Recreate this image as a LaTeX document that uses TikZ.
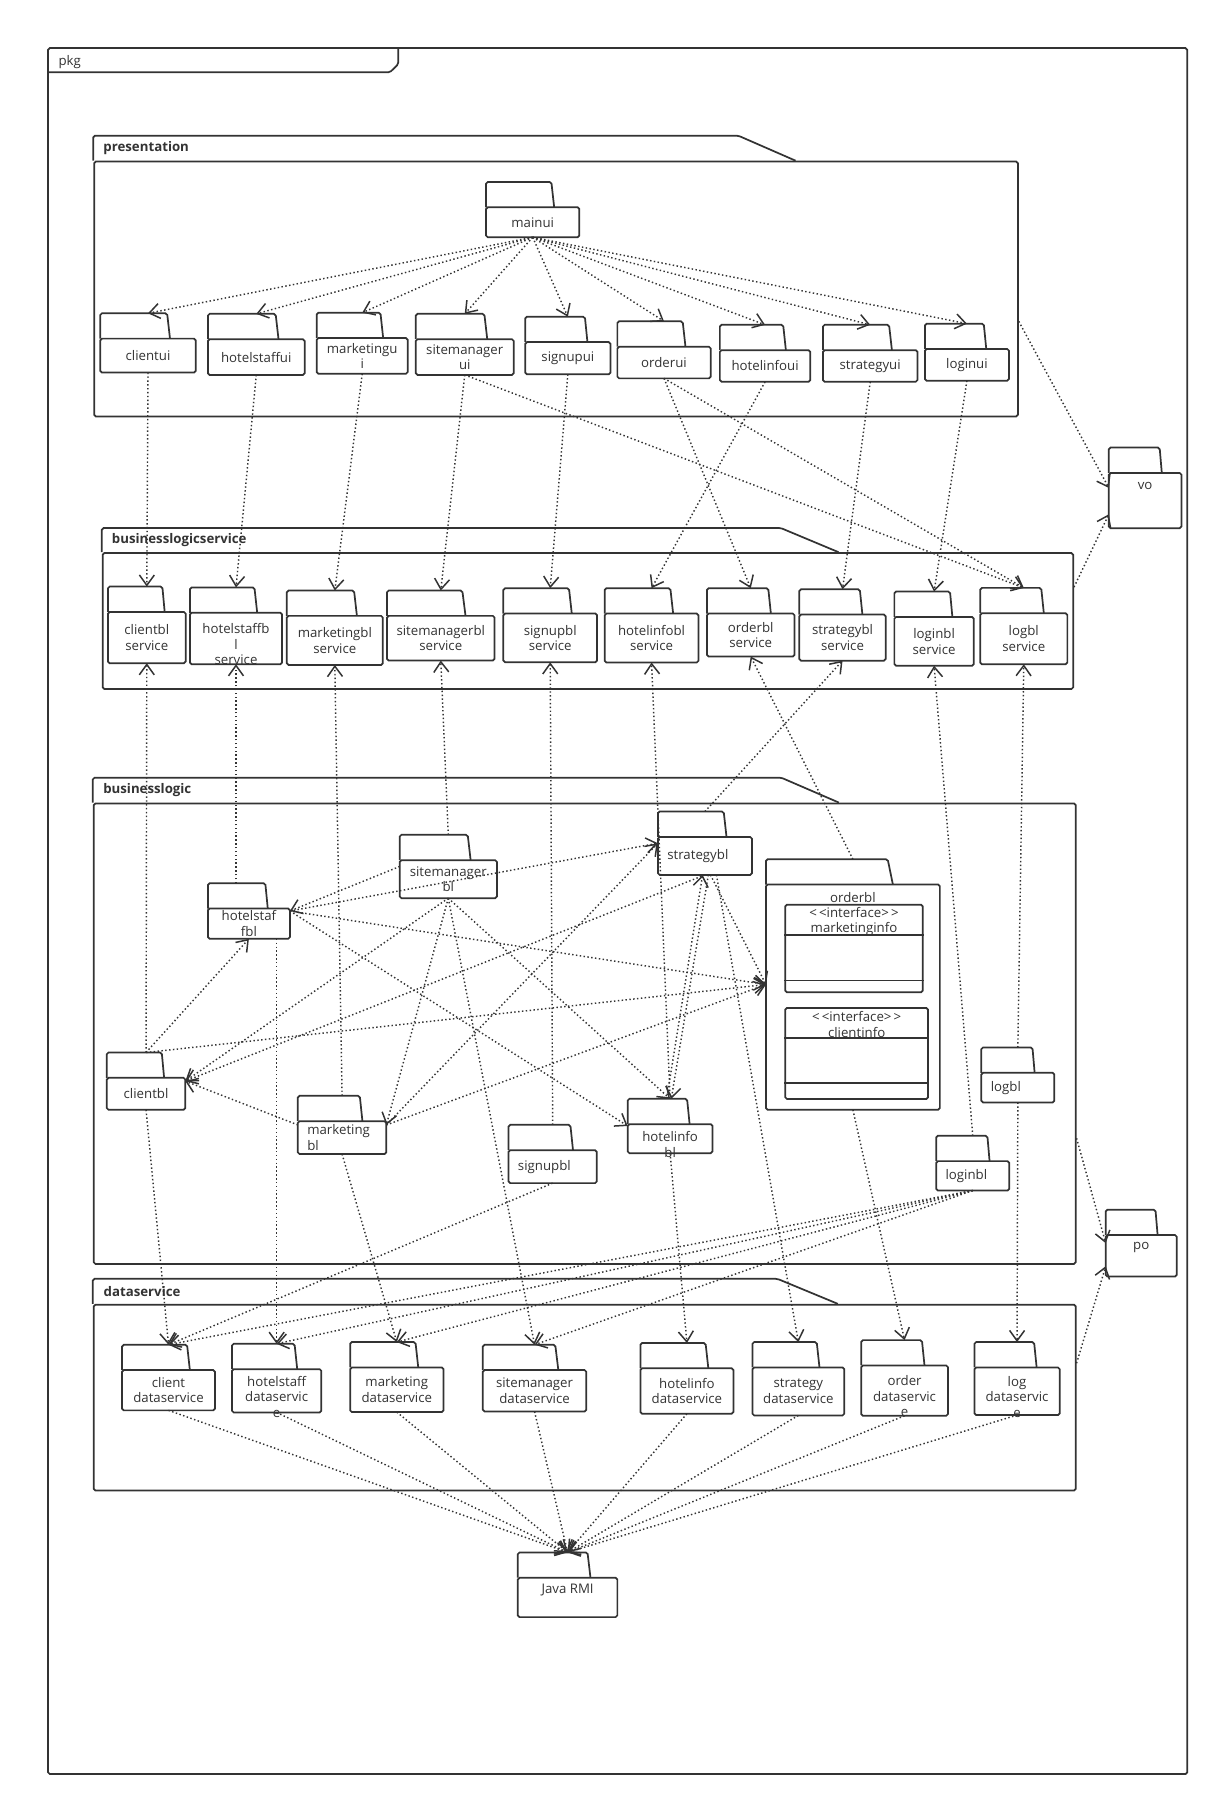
\documentclass[tikz,border=0pt]{standalone}
\usepackage{fontspec}
\setmainfont{Open Sans}
\usetikzlibrary{arrows.meta, positioning, calc}
\definecolor{ink}{HTML}{333333}

\begin{document}
\begin{tikzpicture}[
    x=1pt, y=-1pt,
    txt/.style={font=\fontsize{11.5}{13.5}\selectfont, text=ink, align=center, inner sep=0pt},
    pkgtext/.style={txt, yshift=-11pt},
    title/.style={txt, font=\fontsize{11.5}{13.5}\selectfont\bfseries, anchor=west},
    pkgline/.style={draw=ink, line width=1.5pt, rounded corners=1.5pt},
    pkgshape/.style={rectangle, anchor=north west, inner sep=0pt, outer sep=0pt,
        append after command={\pgfextra{
            \draw[pkgline] ($(\tikzlastnode.north west)+(0,22)$) rectangle (\tikzlastnode.south east);
            \draw[pkgline] ($(\tikzlastnode.north west)+(0,22)$) -- (\tikzlastnode.north west)
                -- ($(\tikzlastnode.north west)!0.70!(\tikzlastnode.north east)$)
                -- ($(\tikzlastnode.north west)!0.73!(\tikzlastnode.north east)+(0,22)$);
        }}},
    pkg/.style={pkgshape, label={[pkgtext]center:{#1}}},
    pkgd/.style={pkgshape, label={[pkgtext, yshift=-5pt]center:{#1}}},
    pkgl/.style={pkgshape, label={[pkgtext, align=left, anchor=west, xshift=8pt]west:{#1}}},
    pkgt/.style={pkgshape, label={[pkgtext, anchor=center, yshift=-22pt]north:{#1}}},
    container/.style={rectangle, pkgline, anchor=north west, inner sep=0pt},
    iface/.style={rectangle, pkgline, anchor=north west, inner sep=0pt},
    dep/.style={draw=ink, line width=1.25pt, dash pattern=on 1.25pt off 2.1pt,
        -{Straight Barb[length=9pt, width=13pt, line width=1.3pt]}}
]
\useasboundingbox (0,0) rectangle (1058,1568);

% outer frame
\node[container, minimum width=989, minimum height=1498.5] (pkgframe) at (41,41) {};
\draw[pkgline] ($(pkgframe.north west)+(0,21.8)$) -- ++(297.5,0) -- ++(7.3,-7.1) -- ++(0,-14.7);
\node[txt, anchor=west] (pkglbl) at (50.6,53.5) {pkg};

% containers
\node[container, minimum width=802, minimum height=221.3] (presentation) at (81,139.5) {};
\draw[pkgline] (presentation.north west) -- ++(0,-21.7) -- ++(560,0) -- ++(49.7,21.7);
\node[title] (presentationtitle) at (89.6,128.6) {presentation};

\node[container, minimum width=842.6, minimum height=118.1] (blservice) at (88.4,479.4) {};
\draw[pkgline] (blservice.north west) -- ++(0,-21) -- ++(589.4,0) -- ++(50.2,21);
\node[title] (blservicetitle) at (97,468.7) {businesslogicservice};

\node[container, minimum width=852.6, minimum height=399.8] (businesslogic) at (80.6,696.8) {};
\draw[pkgline] (businesslogic.north west) -- ++(0,-21.6) -- ++(597.7,0) -- ++(50,21.6);
\node[title] (businesslogictitle) at (89.5,685.8) {businesslogic};

\node[container, minimum width=852.6, minimum height=161.4] (dataservice) at (80.6,1132) {};
\draw[pkgline] (dataservice.north west) -- ++(0,-21.7) -- ++(594.4,0) -- ++(52.4,21.7);
\node[title] (dataservicetitle) at (89.8,1121.2) {dataservice};

% presentation
\node[pkg=mainui, minimum width=81, minimum height=48] (mainui) at (422,158) {};
\node[pkg=clientui, minimum width=83, minimum height=51.5] (clientui) at (87,272) {};
\node[pkg=hotelstaffui, minimum width=84, minimum height=53] (hotelstaffui) at (180.5,272.5) {};
\node[pkg={marketingu\\i}, minimum width=79, minimum height=53] (marketingui) at (275,271.5) {};
\node[pkg={sitemanager\\ui}, minimum width=85, minimum height=53] (sitemanagerui) at (361,272.5) {};
\node[pkg=signupui, minimum width=74, minimum height=50] (signupui) at (456,275) {};
\node[pkg=orderui, minimum width=81, minimum height=49.5] (orderui) at (536,279) {};
\node[pkg=hotelinfoui, minimum width=78.5, minimum height=49.5] (hotelinfoui) at (625,282) {};
\node[pkg=strategyui, minimum width=82, minimum height=49.5] (strategyui) at (714.5,282) {};
\node[pkg=loginui, minimum width=73, minimum height=49.5] (loginui) at (803,281) {};

\node[pkgt=vo, minimum width=63, minimum height=70] (vo) at (962.7,388.6) {};

% businesslogicservice
\node[pkg={clientbl\\service}, minimum width=67.5, minimum height=66.5] (clientblsvc) at (93.7,509.3) {};
\node[pkgd={hotelstaffb\\l\\service}, minimum width=80, minimum height=66.7] (hotelstaffblsvc) at (164.9,510) {};
\node[pkg={marketingbl\\service}, minimum width=83.4, minimum height=64.6] (marketingblsvc) at (249,512.7) {};
\node[pkg={sitemanagerbl\\service}, minimum width=93.4, minimum height=60.8] (sitemanagerblsvc) at (336,512.7) {};
\node[pkg={signupbl\\service}, minimum width=81.4, minimum height=64.3] (signupblsvc) at (437,510.7) {};
\node[pkg={hotelinfobl\\service}, minimum width=81.4, minimum height=64.5] (hotelinfoblsvc) at (525,510.7) {};
\node[pkg={orderbl\\service}, minimum width=76, minimum height=59.3] (orderblsvc) at (613.8,510.7) {};
\node[pkg={strategybl\\service}, minimum width=75, minimum height=62] (strategyblsvc) at (694,511.6) {};
\node[pkg={loginbl\\service}, minimum width=69, minimum height=64.4] (loginblsvc) at (776.5,513.6) {};
\node[pkg={logbl\\service}, minimum width=75.7, minimum height=66.3] (logblsvc) at (851,510.4) {};

% businesslogic
\node[pkg={sitemanager\\bl}, minimum width=84.4, minimum height=55] (sitemanagerbl) at (347,724.8) {};
\node[pkgl=strategybl, minimum width=81.6, minimum height=55] (strategybl) at (571.2,704.6) {};
\node[pkg={hotelstaf\\fbl}, minimum width=71.2, minimum height=48.3] (hotelstaffbl) at (180.5,766.8) {};
\node[pkgt=orderbl, minimum width=151, minimum height=217.5] (orderbl) at (665,746) {};
\node[pkg=clientbl, minimum width=68.2, minimum height=49.7] (clientbl) at (92.7,913.8) {};
\node[pkgl={marketing\\bl}, minimum width=76.8, minimum height=50.6] (marketingbl) at (258.6,951.4) {};
\node[pkgl=signupbl, minimum width=76.7, minimum height=50.6] (signupbl) at (441.5,976.6) {};
\node[pkgd={hotelinfo\\bl}, minimum width=73.6, minimum height=47.2] (hotelinfobl) at (545,954) {};
\node[pkgl=logbl, minimum width=63.4, minimum height=47.8] (logbl) at (852,909.4) {};
\node[pkgl=loginbl, minimum width=63.5, minimum height=47.5] (loginbl) at (812.8,986.1) {};

% interfaces inside orderbl
\node[iface, minimum width=119.4, minimum height=76.1] (marketinginfo) at (681,784.7) {};
\draw[pkgline] ($(marketinginfo.north west)+(0,27.2)$) -- ($(marketinginfo.north east)+(0,27.2)$);
\draw[pkgline] ($(marketinginfo.south west)+(0,-11)$) -- ($(marketinginfo.south east)+(0,-11)$);
\node[txt] (marketinginfotext) at ($(marketinginfo.north)+(0,15.5)$) {<\,<interface>\,>\\marketinginfo};

\node[iface, minimum width=124, minimum height=79] (clientinfo) at (681,874.4) {};
\draw[pkgline] ($(clientinfo.north west)+(0,26.9)$) -- ($(clientinfo.north east)+(0,26.9)$);
\draw[pkgline] ($(clientinfo.south west)+(0,-14.4)$) -- ($(clientinfo.south east)+(0,-14.4)$);
\node[txt] (clientinfotext) at ($(clientinfo.north)+(0,15)$) {<\,<interface>\,>\\clientinfo};

\node[pkgt=po, minimum width=61.7, minimum height=58] (po) at (960,1050.3) {};

% dataservice
\node[pkg={client\\dataservice}, minimum width=80.6, minimum height=57] (clientds) at (106,1167.5) {};
\node[pkgd={hotelstaff\\dataservic\\e}, minimum width=77.6, minimum height=59.6] (hotelstaffds) at (201.4,1166.7) {};
\node[pkg={marketing\\dataservice}, minimum width=81, minimum height=60.8] (marketingds) at (304,1165.2) {};
\node[pkg={sitemanager\\dataservice}, minimum width=89.8, minimum height=58] (sitemanagerds) at (419.2,1167.5) {};
\node[pkg={hotelinfo\\dataservice}, minimum width=80.8, minimum height=61.4] (hotelinfods) at (556,1166) {};
\node[pkg={strategy\\dataservice}, minimum width=79.7, minimum height=63.7] (strategyds) at (653.3,1165.2) {};
\node[pkgd={order\\dataservic\\e}, minimum width=75.3, minimum height=65.7] (orderds) at (747.7,1163.5) {};
\node[pkgd={log\\dataservic\\e}, minimum width=74, minimum height=63.4] (logds) at (846,1165.2) {};

\node[pkgt={Java RMI}, minimum width=86.4, minimum height=56.2] (javarmi) at (449.6,1347.8) {};

% mainui uses every other ui
\foreach \t in {clientui, hotelstaffui, marketingui, sitemanagerui, signupui, orderui, hotelinfoui, strategyui, loginui}
    \draw[dep] (mainui.south) -- (\t.north);

% ui -> blservice
\foreach \s/\t in {clientui/clientblsvc, hotelstaffui/hotelstaffblsvc, marketingui/marketingblsvc,
                   sitemanagerui/sitemanagerblsvc, signupui/signupblsvc, sitemanagerui/logblsvc,
                   orderui/orderblsvc, orderui/logblsvc, hotelinfoui/hotelinfoblsvc,
                   strategyui/strategyblsvc, loginui/loginblsvc}
    \draw[dep] (\s.south) -- (\t.north);

% bl -> blservice
\foreach \s/\t in {clientbl/clientblsvc, marketingbl/marketingblsvc, sitemanagerbl/sitemanagerblsvc,
                   signupbl/signupblsvc, hotelinfobl/hotelinfoblsvc, orderbl/orderblsvc,
                   strategybl/strategyblsvc, loginbl/loginblsvc, logbl/logblsvc}
    \draw[dep] (\s.north) -- (\t.south);
\draw[dep] (hotelstaffblsvc.south |- hotelstaffbl.north) -- (hotelstaffblsvc.south);

% inside businesslogic
\foreach \s/\t in {clientbl.north/hotelstaffbl.south, clientbl.north/orderbl.west,
                   hotelstaffbl.east/orderbl.west, hotelstaffbl.east/hotelinfobl.west,
                   sitemanagerbl.west/hotelstaffbl.east, hotelstaffbl.east/strategybl.west,
                   sitemanagerbl.south/clientbl.east, sitemanagerbl.south/marketingbl.east,
                   sitemanagerbl.south/hotelinfobl.north, marketingbl.east/orderbl.west,
                   marketingbl.east/strategybl.west, marketingbl.west/clientbl.east,
                   strategybl.south/clientbl.east, strategybl.-80/orderbl.west}
    \draw[dep] (\s) -- (\t);
\draw[dep] ([xshift=3pt]strategybl.south) -- ([xshift=1pt]hotelinfobl.north);
\draw[dep] ([xshift=-3pt]hotelinfobl.north) -- ([xshift=-2pt]strategybl.south);

% bl -> dataservice
\foreach \s/\t in {clientbl/clientds, signupbl/clientds, marketingbl/marketingds,
                   sitemanagerbl/sitemanagerds, hotelinfobl/hotelinfods, orderbl/orderds,
                   logbl/logds, loginbl/clientds, loginbl/hotelstaffds,
                   loginbl/marketingds, loginbl/sitemanagerds}
    \draw[dep] (\s.south) -- (\t.north);
\draw[dep] (hotelstaffds.north |- hotelstaffbl.south) -- (hotelstaffds.north);
\draw[dep] (strategybl.-70) -- (strategyds.north);

% dataservice -> Java RMI
\foreach \s in {clientds, hotelstaffds, marketingds, sitemanagerds, hotelinfods, strategyds, orderds, logds}
    \draw[dep] (\s.south) -- (javarmi.north);

% vo and po
\draw[dep] (presentation.-4) -- (vo.west);
\draw[dep] (blservice.4) -- (vo.216);
\draw[dep] (businesslogic.-12.7) -- (po.west);
\draw[dep] (dataservice.4) -- (po.213);

\end{tikzpicture}
\end{document}
